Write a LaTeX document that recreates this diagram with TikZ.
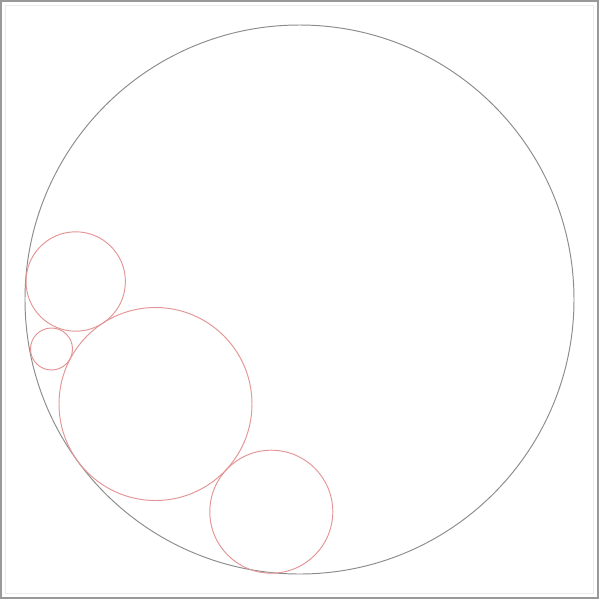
\documentclass[tikz,border=0pt]{standalone}
\begin{document}
\begin{tikzpicture}[x=0.02cm,y=-0.02cm,
  bigc/.style={draw=black!45,line width=0.55pt},
  redc/.style={draw={rgb,255:red,228;green,150;blue,150},line width=0.55pt},
  frame/.style={draw=black!40,line width=1pt},
  inframe/.style={draw=black!8,line width=0.6pt}]
\useasboundingbox (0,0) rectangle (600,600);
\draw[frame] (1,1) rectangle (598,598);
\draw[inframe] (5.5,5.5) rectangle (593.5,593.5);
\node[bigc,circle,minimum size=549*0.02cm,inner sep=0pt] (big) at (299.5,299.5) {};
\node[redc,circle,minimum size=99.4*0.02cm,inner sep=0pt] (c1) at (75.7,281.5) {};
\node[redc,circle,minimum size=42*0.02cm,inner sep=0pt] (c2) at (51.5,349) {};
\node[redc,circle,minimum size=193*0.02cm,inner sep=0pt] (c3) at (155.5,404) {};
\node[redc,circle,minimum size=123*0.02cm,inner sep=0pt] (c4) at (271.3,511.7) {};
\end{tikzpicture}
\end{document}
